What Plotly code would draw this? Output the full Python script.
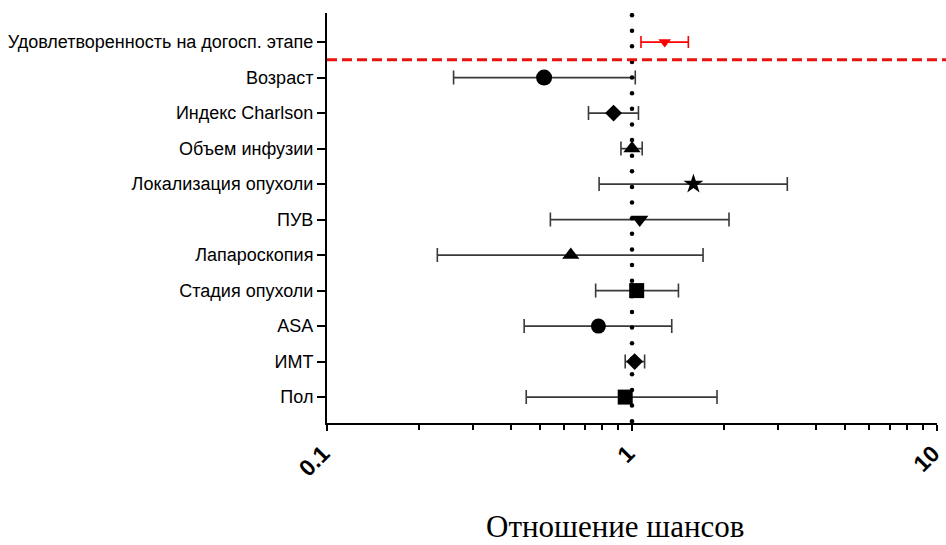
import numpy as np
import plotly.graph_objects as go

# Factors, listed from bottom to top of the plot
factors = ["Пол", "ИМТ", "ASA", "Стадия опухоли", "Лапароскопия", "ПУВ",
           "Локализация опухоли", "Объем инфузии", "Индекс Charlson", "Возраст",
           "Удовлетворенность на догосп. этапе"]
odds_ratio = [0.95, 1.02, 0.776, 1.036, 0.63, 1.06, 1.59, 1.0, 0.87, 0.515, 1.28]
ci_low = [0.45, 0.95, 0.443, 0.76, 0.23, 0.54, 0.78, 0.92, 0.72, 0.26, 1.07]
ci_high = [1.90, 1.10, 1.35, 1.42, 1.71, 2.08, 3.23, 1.08, 1.05, 1.025, 1.53]
symbols = ["square", "diamond", "circle", "square", "triangle-up", "triangle-down",
           "star", "triangle-up", "diamond", "circle", "triangle-down"]
sizes = [15, 13, 15, 15, 15, 15, 15, 15, 13, 16, 11]
colors = ["#000000"] * 10 + ["#ff0000"]
bar_colors = ["#3a3a3a"] * 10 + ["#ff0000"]

fig = go.Figure()

# Reference line at OR = 1 drawn as a column of round dots
dot_y = np.arange(-0.68, 10.85, 0.44)
fig.add_trace(go.Scatter(
    x=[1.0] * len(dot_y), y=dot_y, mode="markers",
    marker=dict(symbol="circle", size=4.5, color="#000000"),
    hoverinfo="skip", showlegend=False, yaxis="y2",
))

for f, v, lo, hi, sym, sz, c, bc in zip(factors, odds_ratio, ci_low, ci_high,
                                         symbols, sizes, colors, bar_colors):
    fig.add_trace(go.Scatter(
        x=[v], y=[f], mode="markers",
        marker=dict(symbol=sym, size=sz, color=c, line=dict(width=0)),
        error_x=dict(type="data", symmetric=False, array=[hi - v],
                     arrayminus=[v - lo], color=bc, thickness=1.6,
                     width=7 if c == "#000000" else 6),
        showlegend=False, name=f,
    ))

# Separator between the pre-hospital satisfaction row and the other factors
fig.add_shape(type="line", xref="paper", yref="y", x0=0, x1=1.02, y0=9.5, y1=9.5,
              line=dict(color="#e8130f", width=3, dash="10px,5px"))

fig.add_annotation(text="Отношение шансов", xref="paper", yref="paper",
                   x=0.472, y=-0.252, xanchor="center", yanchor="middle",
                   showarrow=False,
                   font=dict(family="Liberation Serif", size=31, color="#000000"))

fig.update_layout(
    width=946, height=545,
    margin=dict(l=327, r=9, t=13, b=122, autoexpand=False),
    plot_bgcolor="white", paper_bgcolor="white",
    xaxis=dict(
        type="log", range=[-1, 1], automargin=False,
        tickvals=[0.1, 1, 10], ticktext=["0.1", "1", "10"],
        tickangle=-45, ticklabeloverflow="allow", ticklabelshift=-4,
        tickfont=dict(family="Liberation Sans", size=23, color="#000000", weight="bold"),
        ticks="outside", ticklen=6, tickwidth=2, tickcolor="#000000",
        minor=dict(ticks="outside", ticklen=5, tickwidth=1.5, tickcolor="#000000",
                   tickvals=[0.2, 0.3, 0.4, 0.5, 0.6, 0.7, 0.8, 0.9,
                             2, 3, 4, 5, 6, 7, 8, 9]),
        showline=True, linecolor="#000000", linewidth=2,
        showgrid=False, zeroline=False,
    ),
    yaxis=dict(
        type="category", categoryorder="array", categoryarray=factors,
        range=[-0.73, 10.82], automargin=False,
        tickfont=dict(family="Liberation Sans", size=18, color="#000000"),
        ticks="outside", ticklen=8, tickwidth=2, tickcolor="#000000",
        showline=True, linecolor="#000000", linewidth=2,
        showgrid=False, zeroline=False,
    ),
    yaxis2=dict(overlaying="y", range=[-0.73, 10.82], visible=False),
)

fig.write_html("out.html")
